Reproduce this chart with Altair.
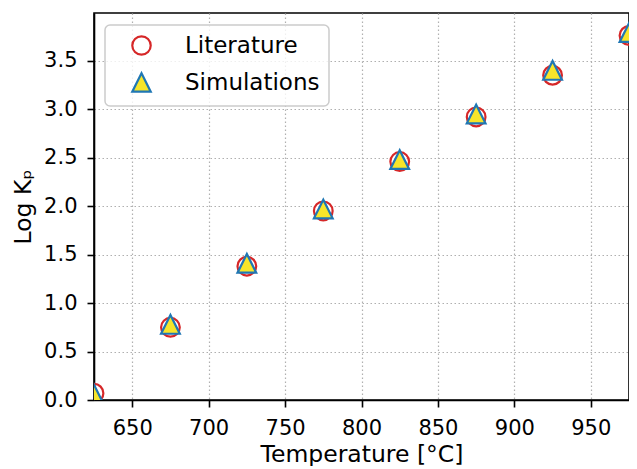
import altair as alt
import pandas as pd

temperatures = [625, 675, 725, 775, 825, 875, 925, 975]
literature = [0.07, 0.75, 1.38, 1.95, 2.46, 2.92, 3.35, 3.76]
simulations = [0.06, 0.78, 1.41, 1.97, 2.48, 2.95, 3.40, 3.79]
series_names = ["Literature", "Simulations"]
x_ticks = [650, 700, 750, 800, 850, 900, 950]
y_ticks = [0.0, 0.5, 1.0, 1.5, 2.0, 2.5, 3.0, 3.5]

rows = []
for t, v in zip(temperatures, literature):
    rows.append({"T": t, "logKp": v, "series": series_names[0]})
for t, v in zip(temperatures, simulations):
    rows.append({"T": t, "logKp": v, "series": series_names[1]})
df = pd.DataFrame(rows)

FONT = "DejaVu Sans"
TRI = "M0,-1L-1,1L1,1Z"

legend = alt.Legend(title=None, orient="none", legendX=11, legendY=12)

common_axis = dict(
    grid=True, gridDash=[1.5, 2.5], gridColor="#b0b0b0", gridWidth=1.2,
    domainColor="#000000", domainWidth=1.6, tickColor="#000000", tickSize=7,
    tickWidth=1.6, labelFontSize=21, labelFont=FONT, labelColor="#000000",
    labelPadding=10, titleFontSize=23.5, titleFont=FONT, titleColor="#000000",
    titleFontWeight="normal",
)

chart = alt.Chart(df).mark_point(filled=True, opacity=1, strokeWidth=2.2, size=350, clip=True).encode(
    x=alt.X("T:Q", scale=alt.Scale(domain=[625, 975], nice=False, zero=False),
            axis=alt.Axis(values=x_ticks, format="d", title="Temperature [°C]",
                          titlePadding=4, **common_axis)),
    y=alt.Y("logKp:Q", scale=alt.Scale(domain=[0, 3.992], nice=False, zero=False),
            axis=alt.Axis(values=y_ticks, format=".1f", title="Log Kₚ",
                          titlePadding=8, **common_axis)),
    shape=alt.Shape("series:N", scale=alt.Scale(domain=series_names, range=["circle", TRI]), legend=legend),
    stroke=alt.Stroke("series:N", scale=alt.Scale(domain=series_names, range=["#d62728", "#1f77b4"]), legend=legend),
    fill=alt.Fill("series:N", scale=alt.Scale(domain=series_names, range=["transparent", "#f7e52a"]), legend=legend),
).properties(
    width=535, height=387,
    autosize=alt.AutoSizeParams(type="none"),
    padding={"left": 86, "top": 5, "right": 0, "bottom": 66},
).configure(
    background="white"
).configure_view(
    stroke="#000000", strokeWidth=1.6
).configure_legend(
    fillColor="rgba(255,255,255,0.8)", strokeColor="#cccccc", strokeWidth=1.5,
    cornerRadius=5, padding=9, symbolOffset=16, labelOffset=32,
    labelFontSize=23, labelFont=FONT, labelColor="#000000",
    symbolSize=340, symbolStrokeWidth=2.2, rowPadding=8,
)

chart.save("out.html", embed_options={"renderer": "svg", "actions": False})
